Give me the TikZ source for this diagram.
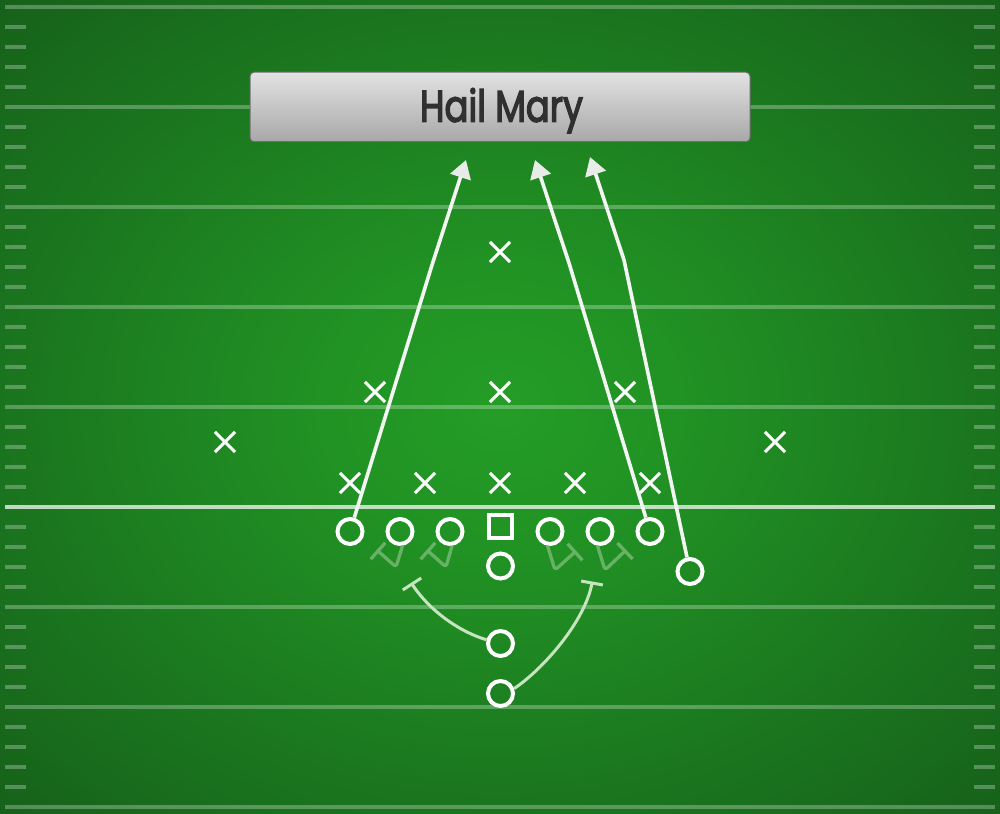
\documentclass[tikz,border=0pt]{standalone}
\usepackage{fontspec}
\newfontfamily\titlefont{Poppins}
\usetikzlibrary{arrows.meta,shapes.misc,calc}
\definecolor{fieldin}{RGB}{36,157,38}
\definecolor{fieldmid}{RGB}{33,146,36}
\definecolor{fieldedge}{RGB}{26,116,30}
\definecolor{fieldcorner}{RGB}{22,97,26}
\definecolor{routecol}{RGB}{243,245,243}
\definecolor{tipcol}{RGB}{232,236,232}
\definecolor{blkcol}{RGB}{104,178,102}
\definecolor{backcol}{RGB}{198,228,192}
\definecolor{titletxt}{RGB}{48,48,48}
\definecolor{boxtop}{RGB}{226,226,226}
\definecolor{boxbot}{RGB}{168,168,168}
\pgfdeclareradialshading{fieldshade}{\pgfpoint{0bp}{0bp}}{%
  color(0bp)=(fieldin); color(9bp)=(fieldmid); color(25bp)=(fieldedge);
  color(35.5bp)=(fieldcorner); color(50bp)=(fieldcorner)}
\newcommand{\heavytext}[1]{\special{pdf:literal direct 2 Tr 0.35 w}#1\special{pdf:literal direct 0 Tr}}
\begin{document}
\begin{tikzpicture}[x=1pt,y=-1pt,
  player/.style={circle,draw=white,line width=4pt,minimum size=25pt,inner sep=0pt},
  snapper/.style={rectangle,draw=white,line width=4pt,minimum size=23.5pt,inner sep=0pt},
  defender/.style={cross out,draw=white,line width=3.1pt,minimum size=17pt,inner sep=0pt},
  routeline/.style={draw=routecol,line width=3.6pt,line join=round,
    -{Triangle[length=18pt,width=21pt,fill=tipcol,color=tipcol]}},
  blockmark/.style={draw=blkcol,line width=3.3pt,line join=round,rounded corners=3pt},
  blockbar/.style={draw=blkcol,line width=3.3pt},
  backblock/.style={draw=backcol,line width=3pt},
  yard/.style={draw=white,opacity=0.28,line width=4pt},
  hash/.style={draw=white,opacity=0.28,line width=4pt},
  los/.style={draw=white,opacity=0.72,line width=3.6pt},
  titlebox/.style={rectangle,rounded corners=4pt,draw={rgb,255:red,110;green,110;blue,110},
    line width=1pt,top color=boxtop,bottom color=boxbot,minimum width=500pt,minimum height=69.5pt,inner sep=0pt}
]
\useasboundingbox (0,0) rectangle (1000,813);
\shade[shading=fieldshade] (0,0) rectangle (1000,813);
% yard lines and hash marks
\foreach \k in {0,1,2,3,4,6,7,8} {
  \draw[yard] (5,{6.7+100*\k}) -- (995,{6.7+100*\k});
}
\draw[los] (5,506.7) -- (995,506.7);
\foreach \k in {0,...,7} {
  \foreach \j in {1,...,4} {
    \draw[hash] (5,{6.7+100*\k+20*\j}) -- (26,{6.7+100*\k+20*\j});
    \draw[hash] (974,{6.7+100*\k+20*\j}) -- (995,{6.7+100*\k+20*\j});
  }
}
% title
\node[titlebox] (title) at (500,107) {};
\node[anchor=base,inner sep=0pt,text=titletxt] (titletext) at (501.5,121.7)
  {\titlefont\heavytext{\resizebox{163pt}{33.5pt}{Hail Mary}}};
% defense
\node[defender] (d1) at (500,252) {};
\node[defender] (d2) at (375,392) {};
\node[defender] (d3) at (500,392) {};
\node[defender] (d4) at (625,392) {};
\node[defender] (d5) at (225,442) {};
\node[defender] (d6) at (775,442) {};
\node[defender] (d7) at (350,483) {};
\node[defender] (d8) at (425,483) {};
\node[defender] (d9) at (500,483) {};
\node[defender] (d10) at (575,483) {};
\node[defender] (d11) at (650,483) {};
% offense
\node[player] (L1) at (350,531.5) {};
\node[player] (L2) at (400,531.5) {};
\node[player] (L3) at (450,531.5) {};
\node[snapper] (C) at (500.5,526.5) {};
\node[player] (R1) at (550,531.5) {};
\node[player] (R2) at (600,531.5) {};
\node[player] (R3) at (650,531.5) {};
\node[player] (QB) at (500.5,566) {};
\node[player] (WR) at (690,571.5) {};
\node[player] (RB) at (500.5,643.5) {};
\node[player] (FB) at (500.5,693.5) {};
% routes
\coordinate (b1) at (432,265);
\coordinate (t1) at (466,160);
\coordinate (b2) at (569,263);
\coordinate (t2) at (535,160);
\coordinate (b3) at (624,260);
\coordinate (t3) at (590,157);
\draw[routeline] (L1) -- (b1) -- (t1);
\draw[routeline] (R3) -- (b2) -- (t2);
\draw[routeline] (WR) -- (b3) -- (t3);
% line blocks
\coordinate (v2) at (396,567);
\coordinate (e2) at (378,551);
\coordinate (v3) at (446,567);
\coordinate (e3) at (428,551);
\coordinate (v5) at (555,570);
\coordinate (e5) at (575,552);
\coordinate (v6) at (605,570);
\coordinate (e6) at (625,551);
\draw[blockmark] (L2.-80) -- (v2) -- (e2);
\draw[blockmark] (L3.-82) -- (v3) -- (e3);
\draw[blockmark] (R1.-100) -- (v5) -- (e5);
\draw[blockmark] (R2.-100) -- (v6) -- (e6);
\draw[blockbar] ($(e2)!11pt!90:(v2)$) -- ($(e2)!11pt!-90:(v2)$);
\draw[blockbar] ($(e3)!11pt!90:(v3)$) -- ($(e3)!11pt!-90:(v3)$);
\draw[blockbar] ($(e5)!11pt!90:(v5)$) -- ($(e5)!11pt!-90:(v5)$);
\draw[blockbar] ($(e6)!11pt!90:(v6)$) -- ($(e6)!11pt!-90:(v6)$);
% backfield blocks
\coordinate (e7) at (412,584);
\coordinate (c7) at (429.5,611);
\coordinate (e8) at (592,583);
\coordinate (c8) at (585,622);
\draw[backblock] (RB.165) .. controls (460,632) and (c7) .. (e7);
\draw[backblock] (FB.20) .. controls (542,670) and (c8) .. (e8);
\draw[backblock] ($(e7)!11pt!90:(c7)$) -- ($(e7)!11pt!-90:(c7)$);
\draw[backblock] ($(e8)!11pt!90:(c8)$) -- ($(e8)!11pt!-90:(c8)$);
\end{tikzpicture}
\end{document}
